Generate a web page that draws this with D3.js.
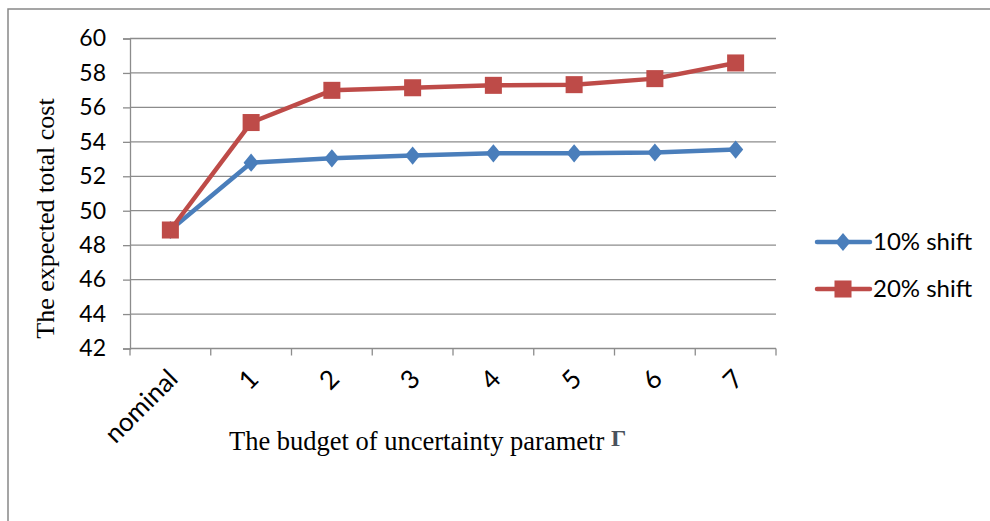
<!DOCTYPE html>
<html>
<head>
<meta charset="utf-8">
<script src="https://cdn.jsdelivr.net/npm/d3@7"></script>
<style>
  html, body { margin: 0; padding: 0; background: #fff; }
  svg { display: block; }
</style>
</head>
<body>
<svg id="chart" width="990" height="521"></svg>
<script>
// Categories on the x axis
const categories = ["nominal", "1", "2", "3", "4", "5", "6", "7"];
// Expected total cost for each shift level
const shift10 = [48.88, 52.79, 53.04, 53.2, 53.33, 53.33, 53.38, 53.55];
const shift20 = [48.88, 55.12, 56.99, 57.14, 57.28, 57.32, 57.67, 58.58];
const seriesNames = ["10% shift", "20% shift"];
const yTicks = [42, 44, 46, 48, 50, 52, 54, 56, 58, 60];

const svg = d3.select("#chart");
const W = 990, H = 521;
const sansFont = "Lato, 'Open Sans', sans-serif";
const serifFont = "'Liberation Serif', 'Times New Roman', serif";

// outer chart frame
svg.append("rect")
  .attr("x", 8).attr("y", 9)
  .attr("width", W + 10).attr("height", H + 10)
  .attr("fill", "none").attr("stroke", "#888").attr("stroke-width", 1.5);

const plot = { left: 130, right: 776, top: 38.5, bottom: 348.5 };

const x = d3.scaleBand().domain(categories).range([plot.left, plot.right]).padding(0);
const y = d3.scaleLinear().domain([42, 60]).range([plot.bottom, plot.top]);

// horizontal grid lines
svg.append("g")
  .selectAll("line").data(yTicks.filter(t => t !== 42)).join("line")
  .attr("x1", plot.left).attr("x2", plot.right)
  .attr("y1", d => y(d)).attr("y2", d => y(d))
  .attr("stroke", "#8c8c8c").attr("stroke-width", 1.3);

// y axis
const yAxis = svg.append("g")
  .attr("transform", `translate(${plot.left},0)`)
  .call(d3.axisLeft(y).tickValues(yTicks).tickSize(7).tickPadding(17).tickFormat(d3.format("d")));
yAxis.select(".domain").attr("stroke", "#8c8c8c").attr("stroke-width", 1.3);
yAxis.selectAll(".tick line").attr("stroke", "#8c8c8c").attr("stroke-width", 1.3);
yAxis.selectAll(".tick text")
  .attr("font-family", sansFont)
  .attr("font-size", 23).attr("fill", "#000");

// x axis with category boundary ticks
const xAxisG = svg.append("g").attr("transform", `translate(0,${plot.bottom})`);
xAxisG.append("line")
  .attr("x1", plot.left).attr("x2", plot.right)
  .attr("y1", 0).attr("y2", 0)
  .attr("stroke", "#8c8c8c").attr("stroke-width", 1.3);
const bounds = categories.map(c => x(c)).concat([plot.right]);
xAxisG.selectAll("line.b").data(bounds).join("line")
  .attr("class", "b")
  .attr("x1", d => d).attr("x2", d => d)
  .attr("y1", 0).attr("y2", 7)
  .attr("stroke", "#8c8c8c").attr("stroke-width", 1.3);
xAxisG.selectAll("text").data(categories).join("text")
  .attr("transform", d => `translate(${x(d) + x.bandwidth() / 2 + 9},${32}) rotate(-45)`)
  .attr("text-anchor", "end")
  .attr("font-family", sansFont)
  .attr("font-size", 26).attr("fill", "#000")
  .text(d => d);

// axis titles
svg.append("text")
  .attr("transform", `translate(54,${(plot.top + plot.bottom) / 2 + 25}) rotate(-90)`)
  .attr("text-anchor", "middle")
  .attr("font-family", serifFont)
  .attr("font-size", 26).attr("fill", "#000")
  .text("The expected total cost");

const xt = svg.append("text")
  .attr("x", 229).attr("y", 450)
  .attr("font-family", serifFont)
  .attr("font-size", 26.5).attr("fill", "#000");
xt.append("tspan").text("The budget of uncertainty parametr ");
xt.append("tspan").attr("dy", -4).attr("font-size", 24).attr("font-weight", "bold")
  .attr("fill", "#4a525c").text("Γ");

// rhombus marker, slightly taller than wide
const rhombus = {
  draw(ctx, size) {
    const w = Math.sqrt(size) * 0.62, h = Math.sqrt(size) * 0.74;
    ctx.moveTo(0, -h);
    ctx.lineTo(w, 0);
    ctx.lineTo(0, h);
    ctx.lineTo(-w, 0);
    ctx.closePath();
  }
};

// series lines and markers
const series = [
  { name: seriesNames[0], values: shift10, color: "#4a7ebb", symbol: rhombus, size: 150 },
  { name: seriesNames[1], values: shift20, color: "#be4b48", symbol: d3.symbolSquare, size: 290 }
];
const cx = c => x(c) + x.bandwidth() / 2;
const line = d3.line().x((d, i) => cx(categories[i])).y(d => y(d));

series.forEach(s => {
  svg.append("path").datum(s.values)
    .attr("d", line).attr("fill", "none")
    .attr("stroke", s.color).attr("stroke-width", 4.5)
    .attr("stroke-linejoin", "round");
  svg.append("g").selectAll("path").data(s.values).join("path")
    .attr("d", d3.symbol().type(s.symbol).size(s.size))
    .attr("transform", (d, i) => `translate(${cx(categories[i])},${y(d)})`)
    .attr("fill", s.color);
});

// legend
const legend = svg.append("g");
series.forEach((s, i) => {
  const ly = 242 + i * 47;
  legend.append("line")
    .attr("x1", 817).attr("x2", 870).attr("y1", ly).attr("y2", ly)
    .attr("stroke", s.color).attr("stroke-width", 4.5).attr("stroke-linecap", "round");
  legend.append("path")
    .attr("d", d3.symbol().type(s.symbol).size(s.size))
    .attr("transform", `translate(843,${ly})`)
    .attr("fill", s.color);
  legend.append("text")
    .attr("x", 873).attr("y", ly + 8)
    .attr("font-family", sansFont)
    .attr("font-size", 24).attr("fill", "#000")
    .text(s.name);
});
</script>
</body>
</html>
